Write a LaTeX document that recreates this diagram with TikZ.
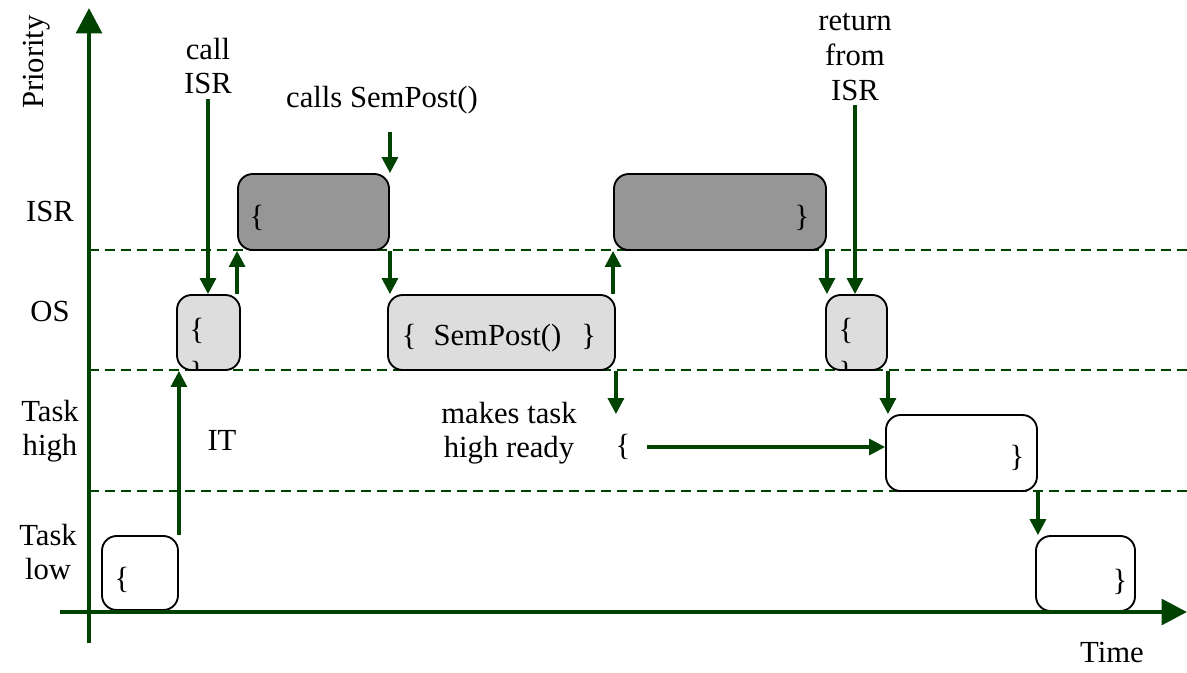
\documentclass[tikz,border=0pt]{standalone}
\usepackage{fontspec}
\setmainfont{Liberation Serif}
\usetikzlibrary{arrows.meta, positioning}

\definecolor{darkgreen}{RGB}{0,66,0}
\definecolor{osgray}{RGB}{221,221,221}
\definecolor{isrgray}{RGB}{150,150,150}

\begin{document}
\begin{tikzpicture}[
    x=0.75pt, y=-0.75pt,
    font=\fontsize{23}{26}\selectfont,
    >={Triangle[length=12pt, width=12pt]},
    axis/.style={line width=3.6pt, darkgreen, -{Triangle[length=19pt, width=19pt]}},
    level/.style={dash pattern=on 7.5pt off 4.5pt, line width=1.5pt, darkgreen},
    flow/.style={->, line width=2.4pt, darkgreen},
    slot/.style={draw, rounded corners=11pt, line width=1.4pt, inner sep=0pt},
    taskbox/.style={slot, fill=white},
    osbox/.style={slot, fill=osgray},
    isrbox/.style={slot, fill=isrgray},
    cut/.style={path picture={
        \node at ([xshift=15pt, yshift=-27pt]path picture bounding box.north west) {\{};
        \node at ([xshift=15pt, yshift=-59pt]path picture bounding box.north west) {\}};
    }}
]
    \useasboundingbox (0,0) rectangle (1187,672);

    % Priority levels
    \foreach \y in {250, 370, 491}
        \draw[level] (89,\y) -- (1187,\y);

    % Level names
    \node[rotate=90] (prio) at (37,62) {Priority};
    \node (lisr) at (50,211) {ISR};
    \node (los) at (50,311) {OS};
    \node[align=center] (lhigh) at (50,431) {Task\\high};
    \node[align=center] (llow) at (48,552) {Task\\low};
    \node (ltime) at (1112,652) {Time};

    % Execution slots
    \node[taskbox, minimum width=76*0.75pt, minimum height=74*0.75pt] (tlow1) at (140,573) {};
    \node[osbox, cut, minimum width=63*0.75pt, minimum height=75*0.75pt] (os1) at (208.5,332.5) {};
    \node[isrbox, minimum width=151*0.75pt, minimum height=76*0.75pt] (isr1) at (313.5,212) {};
    \node[osbox, minimum width=227*0.75pt, minimum height=75*0.75pt] (os2) at (501.5,332.5) {};
    \node[isrbox, minimum width=212*0.75pt, minimum height=76*0.75pt] (isr2) at (720,212) {};
    \node[osbox, cut, minimum width=61*0.75pt, minimum height=75*0.75pt] (os3) at (856.5,332.5) {};
    \node[taskbox, minimum width=151*0.75pt, minimum height=76*0.75pt] (thigh) at (961.5,453) {};
    \node[taskbox, minimum width=99*0.75pt, minimum height=75*0.75pt] (tlow2) at (1085.5,573.5) {};

    % Braces inside the slots
    \node (b1) at (122,580) {\{};
    \node (b2) at (257,218) {\{};
    \node (b3) at (499,338) {\{\hspace{0.55em}SemPost()\hspace{0.65em}\}};
    \node (b4) at (802,218) {\}};
    \node (b5) at (1017,458) {\}};
    \node (b6) at (1120,582) {\}};

    % Event labels
    \node[align=center] (callisr) at (208,66) {call\\ISR};
    \node (sempost) at (382,100) {calls SemPost()};
    \node[align=center] (retisr) at (855,57) {return\\from\\ISR};
    \node (it) at (222,440) {IT};
    \node[align=center] (ready) at (509,433) {makes task\\high ready};
    \node (wake) at (623,447) {\{};

    % Switches between levels
    \draw[flow] (tlow1.north east) -- (tlow1.north east |- os1.south);
    \draw[flow] (callisr.south) -- (callisr.south |- os1.north);
    \draw[flow] (isr1.south west |- os1.north) -- (isr1.south west);
    \draw[flow] ([yshift=31pt]isr1.north east) -- (isr1.north east);
    \draw[flow] (isr1.south east) -- (isr1.south east |- os2.north);
    \draw[flow] (isr2.south west |- os2.north) -- (isr2.south west);
    \draw[flow] (os2.south east) -- (os2.south east |- thigh.north);
    \draw[flow] ([xshift=9pt]wake.east) -- (wake -| thigh.west);
    \draw[flow] (isr2.south east) -- (isr2.south east |- os3.north);
    \draw[flow] (retisr.south) -- (retisr.south |- os3.north);
    \draw[flow] (os3.south east) -- (os3.south east |- thigh.north);
    \draw[flow] (thigh.south east) -- (thigh.south east |- tlow2.north);

    % Axes
    \coordinate (ybot) at (89,643);
    \coordinate (ytop) at (89,8);
    \coordinate (xleft) at (60,612);
    \coordinate (xright) at (1187,612);
    \draw[axis] (ybot) -- (ytop);
    \draw[axis] (xleft) -- (xright);
\end{tikzpicture}
\end{document}
